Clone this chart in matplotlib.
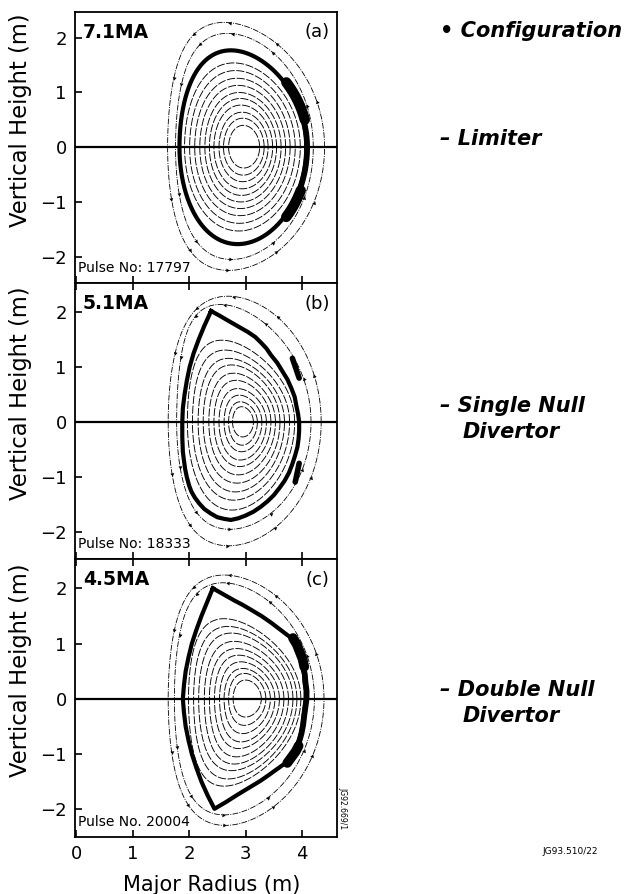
import numpy as np
import matplotlib
matplotlib.use("Agg")
import matplotlib.pyplot as plt

plt.rcParams['font.family'] = ['DejaVu Sans']

# ---------------- text / labels ----------------
current_labels = ["7.1MA", "5.1MA", "4.5MA"]
panel_tags = ["(a)", "(b)", "(c)"]
pulse_labels = ["Pulse No: 17797", "Pulse No: 18333", "Pulse No. 20004"]
x_ticks = [0, 1, 2, 3, 4]
y_ticks = [-2, -1, 0, 1, 2]

# ---------------- (a) limiter configuration ----------------
# nested closed surfaces: inboard / outboard midplane radius, top / bottom height, R at top / bottom
a_rin = [2.70, 2.61, 2.53, 2.44, 2.36, 2.28, 2.19, 2.10, 2.01, 1.92]
a_rout = [3.25, 3.33, 3.40, 3.48, 3.55, 3.63, 3.71, 3.79, 3.88, 3.97]
a_ztop = [0.40, 0.53, 0.64, 0.77, 0.89, 1.00, 1.13, 1.26, 1.40, 1.54]
a_zbot = [-0.38, -0.51, -0.63, -0.76, -0.88, -1.00, -1.12, -1.25, -1.39, -1.53]
a_rtop = [2.96, 2.95, 2.94, 2.92, 2.91, 2.89, 2.87, 2.85, 2.82, 2.79]
a_rbot = [2.97, 2.96, 2.95, 2.94, 2.93, 2.92, 2.91, 2.90, 2.89, 2.88]
# last closed flux surface (limiter plasma)
a_lcfs = [1.83, 4.08, 1.77, -1.77, 2.74, 2.86]
# scrape-off layer surfaces
a_sol_rin = [1.76, 1.62]
a_sol_rout = [4.20, 4.40]
a_sol_ztop = [2.08, 2.28]
a_sol_zbot = [-2.05, -2.25]
a_sol_rtop = [2.68, 2.62]
a_sol_rbot = [2.75, 2.70]
# limiter contact (height ranges on the outboard side)
a_lim_z = [(0.49, 1.19), (-1.28, -0.78)]
a_contact_z = (-1.28, 1.19)

# ---------------- (b) single null divertor ----------------
b_rin = [2.77, 2.70, 2.62, 2.53, 2.44, 2.35, 2.25, 2.16, 2.06, 1.97]
b_rout = [3.14, 3.21, 3.29, 3.37, 3.45, 3.53, 3.61, 3.69, 3.78, 3.87]
b_ztop = [0.28, 0.37, 0.49, 0.61, 0.76, 0.89, 1.04, 1.16, 1.31, 1.49]
b_zbot = [-0.27, -0.42, -0.54, -0.69, -0.81, -0.96, -1.11, -1.27, -1.42, -1.60]
b_rtop = [2.93, 2.91, 2.89, 2.86, 2.83, 2.79, 2.75, 2.70, 2.64, 2.58]
b_rbot = [2.95, 2.94, 2.93, 2.91, 2.89, 2.87, 2.85, 2.82, 2.79, 2.76]
b_lcfs_r = [2.39, 2.55, 2.70, 2.87, 3.04, 3.17, 3.27, 3.37, 3.45, 3.56, 3.65, 3.74, 3.81,
            3.87, 3.90, 3.93, 3.95, 3.95, 3.94, 3.92, 3.88, 3.83, 3.77, 3.69, 3.60, 3.50,
            3.39, 3.27, 3.14, 3.00, 2.87, 2.74, 2.62, 2.50, 2.38, 2.27, 2.18, 2.10, 2.04,
            2.00, 1.96, 1.93, 1.91, 1.89, 1.88, 1.88, 1.89, 1.92, 1.96, 2.01, 2.08, 2.17,
            2.27, 2.39]
b_lcfs_z = [2.02, 1.93, 1.84, 1.74, 1.64, 1.55, 1.45, 1.34, 1.22, 1.08, 0.93, 0.78, 0.62,
            0.46, 0.30, 0.15, 0.00, -0.15, -0.30, -0.45, -0.60, -0.76, -0.92, -1.07, -1.20,
            -1.33, -1.44, -1.54, -1.63, -1.70, -1.75, -1.78, -1.76, -1.73, -1.66, -1.58,
            -1.48, -1.37, -1.26, -1.15, -1.00, -0.85, -0.70, -0.54, -0.27, 0.00, 0.25,
            0.50, 0.75, 1.00, 1.25, 1.50, 1.75, 2.02]
b_sol_rin = [1.78, 1.63]
b_sol_rout = [4.16, 4.34]
b_sol_ztop = [2.14, 2.29]
b_sol_zbot = [-1.95, -2.25]
b_sol_rtop = [2.55, 2.69]
b_sol_rbot = [2.72, 2.70]
b_lim_r = [(3.83, 3.95), (3.95, 3.88)]
b_lim_zz = [(1.16, 0.80), (-0.75, -1.09)]

# ---------------- (c) double null divertor ----------------
c_rin = [2.78, 2.70, 2.62, 2.54, 2.45, 2.36, 2.27, 2.17, 2.08, 1.99]
c_rout = [3.28, 3.36, 3.44, 3.52, 3.60, 3.68, 3.76, 3.84, 3.91, 3.98]
c_ztop = [0.34, 0.46, 0.55, 0.67, 0.79, 0.91, 1.04, 1.19, 1.31, 1.45]
c_zbot = [-0.33, -0.48, -0.63, -0.78, -0.90, -1.05, -1.18, -1.30, -1.45, -1.58]
c_rtop = [3.00, 2.98, 2.95, 2.92, 2.88, 2.84, 2.80, 2.75, 2.69, 2.62]
c_rbot = [3.00, 2.98, 2.95, 2.92, 2.88, 2.84, 2.80, 2.75, 2.69, 2.62]
c_lcfs_r = [2.42, 2.61, 2.80, 2.95, 3.10, 3.28, 3.45, 3.63, 3.81, 3.88, 3.93, 3.98, 4.01,
            4.04, 4.05, 4.07, 4.07, 4.05, 4.03, 4.01, 3.98, 3.95, 3.91, 3.86, 3.71, 3.56,
            3.41, 3.27, 3.06, 2.85, 2.65, 2.45, 2.33, 2.22, 2.13, 2.05, 1.99, 1.94, 1.91,
            1.89, 1.91, 1.94, 1.99, 2.05, 2.13, 2.22, 2.32, 2.42]
c_lcfs_z = [2.00, 1.89, 1.78, 1.70, 1.61, 1.50, 1.38, 1.24, 1.10, 0.98, 0.85, 0.72, 0.58,
            0.44, 0.30, 0.15, 0.00, -0.15, -0.30, -0.47, -0.63, -0.74, -0.85, -0.95, -1.16,
            -1.27, -1.38, -1.48, -1.61, -1.74, -1.87, -1.99, -1.75, -1.50, -1.25, -1.00,
            -0.75, -0.50, -0.25, 0.00, 0.25, 0.50, 0.75, 1.00, 1.25, 1.50, 1.75, 2.00]
c_sol_rin = [1.74, 1.63]
c_sol_rout = [4.22, 4.39]
c_sol_ztop = [2.10, 2.24]
c_sol_zbot = [-2.10, -2.29]
c_sol_rtop = [2.60, 2.62]
c_sol_rbot = [2.62, 2.64]
c_lim_z = [(0.55, 1.13), (-1.18, -0.75)]
c_contact_z = (-1.18, 1.13)

config_lines = [("\u2022 Configuration", 0.695, 31),
                ("\u2013 Limiter", 0.695, 139),
                ("\u2013 Single Null", 0.695, 406),
                ("Divertor", 0.730, 432),
                ("\u2013 Double Null", 0.695, 690),
                ("Divertor", 0.730, 716)]


def shape(rin, rout, ztop, zbot, rtop, rbot, sq=0.0, n=721):
    R0 = 0.5 * (rin + rout)
    a = 0.5 * (rout - rin)
    th = np.linspace(0, 2 * np.pi, n)
    s = np.sin(th)
    up = s >= 0
    du = np.arcsin(np.clip((R0 - rtop) / a, -0.95, 0.95))
    dl = np.arcsin(np.clip((R0 - rbot) / a, -0.95, 0.95))
    d = np.where(up, du, dl)
    k = np.where(up, ztop / a, -zbot / a)
    R = R0 + a * np.cos(th + d * s)
    Z = k * a * np.sin(th + sq * np.sin(2 * th))
    return R, Z


fig = plt.figure(figsize=(6.33, 8.94), dpi=100)
W, H = 633.0, 894.0
panel_px = [(12, 283), (283, 559), (559, 837)]
panel_ylim = [(-2.48, 2.47), (-2.49, 2.53), (-2.5, 2.53)]
ax_left, ax_right = 75, 337

inner = [(a_rin, a_rout, a_ztop, a_zbot, a_rtop, a_rbot),
         (b_rin, b_rout, b_ztop, b_zbot, b_rtop, b_rbot),
         (c_rin, c_rout, c_ztop, c_zbot, c_rtop, c_rbot)]
sols = [(a_sol_rin, a_sol_rout, a_sol_ztop, a_sol_zbot, a_sol_rtop, a_sol_rbot),
        (b_sol_rin, b_sol_rout, b_sol_ztop, b_sol_zbot, b_sol_rtop, b_sol_rbot),
        (c_sol_rin, c_sol_rout, c_sol_ztop, c_sol_zbot, c_sol_rtop, c_sol_rbot)]

marker_theta = [0.35, 0.95, 1.5, 2.05, 2.6, 3.55, 4.1, 4.7, 5.3, 5.85]


def thick_outboard(ax, R, Z, zr, lw, dr):
    R = np.asarray(R, dtype=float)
    Z = np.asarray(Z, dtype=float)
    m = (Z >= zr[0]) & (Z <= zr[1]) & (R > 3.3)
    ax.plot(np.where(m, R + dr, np.nan), np.where(m, Z, np.nan), color='k', lw=lw,
            solid_capstyle='round', solid_joinstyle='round')


for i in range(3):
    top, bot = panel_px[i]
    ax = fig.add_axes([ax_left / W, 1 - bot / H, (ax_right - ax_left) / W, (bot - top) / H])
    ax.set_xlim(-0.02, 4.62)
    ax.set_ylim(*panel_ylim[i])

    # nested closed surfaces
    rin, rout, zt, zb, rt, rb = inner[i]
    for j in range(len(rin)):
        R, Z = shape(rin[j], rout[j], zt[j], zb[j], rt[j], rb[j])
        ax.plot(R, Z, color='k', lw=0.65, dashes=(9, 1.8))

    # scrape-off layer surfaces with direction arrows
    srin, srout, szt, szb, srt, srb = sols[i]
    for j in range(len(srin)):
        R, Z = shape(srin[j], srout[j], szt[j], szb[j], srt[j], srb[j], sq=0.04)
        ax.plot(R, Z, color='k', lw=0.6, dashes=(7, 1.5, 1.2, 1.5))
        n = len(R)
        for t in marker_theta:
            idx = int(t / (2 * np.pi) * (n - 1))
            dR = R[idx + 1] - R[idx - 1]
            dZ = Z[idx + 1] - Z[idx - 1]
            ang = np.degrees(np.arctan2(dZ, dR)) - 90
            ax.plot(R[idx], Z[idx], marker=(3, 0, ang), ms=3.2, color='k', mew=0)

    # midplane
    ax.axhline(0, color='k', lw=1.6)

    # last closed flux surface + limiters
    if i == 0:
        R, Z = shape(*a_lcfs)
        ax.plot(R, Z, color='k', lw=3.0, solid_joinstyle='round')
        thick_outboard(ax, R, Z, a_contact_z, 4.2, 0.01)
        for zr in a_lim_z:
            thick_outboard(ax, R, Z, zr, 7.5, 0.035)
    elif i == 1:
        ax.plot(b_lcfs_r, b_lcfs_z, color='k', lw=3.0, solid_joinstyle='round')
        for rr, zz in zip(b_lim_r, b_lim_zz):
            ax.plot(rr, zz, color='k', lw=4.0, solid_capstyle='round')
    else:
        ax.plot(c_lcfs_r, c_lcfs_z, color='k', lw=3.0, solid_joinstyle='round')
        thick_outboard(ax, c_lcfs_r, c_lcfs_z, c_contact_z, 4.2, 0.01)
        for zr in c_lim_z:
            thick_outboard(ax, c_lcfs_r, c_lcfs_z, zr, 7.0, 0.03)

    # axes styling
    for sp in ax.spines.values():
        sp.set_linewidth(1.3)
    ax.set_xticks(x_ticks)
    ax.set_yticks(y_ticks)
    ax.tick_params(direction='in', length=5, width=1.2, labelsize=13, pad=6,
                   top=(i > 0), bottom=True)
    if i < 2:
        ax.tick_params(labelbottom=False)
    ax.set_ylabel("Vertical Height (m)", fontsize=16.3)
    ax.yaxis.set_label_coords(-0.165, 0.6)

    ax.text(0.03, 0.925, current_labels[i], transform=ax.transAxes, fontsize=13.5,
            fontweight='bold', ha='left', va='center')
    ax.text(0.925, 0.925, panel_tags[i], transform=ax.transAxes, fontsize=13,
            ha='center', va='center')
    ax.text(0.01, 0.055, pulse_labels[i], transform=ax.transAxes, fontsize=10,
            ha='left', va='center')

    if i == 2:
        ax.set_xlabel("Major Radius (m)", fontsize=15)
        ax.xaxis.set_label_coords(0.523, -0.135)

for txt, xf, ypx in config_lines:
    fig.text(xf, 1 - ypx / H, txt, fontsize=15, fontweight='bold', fontstyle='italic',
             ha='left', va='center')

fig.text(570 / W, 1 - 851 / H, "JG93.510/22", fontsize=6.5, ha='center', va='center')
fig.text(343 / W, 1 - 808 / H, "JG92.669/1", fontsize=5.5, rotation=-90,
         ha='center', va='center')

fig.savefig("out.png", dpi=100)
